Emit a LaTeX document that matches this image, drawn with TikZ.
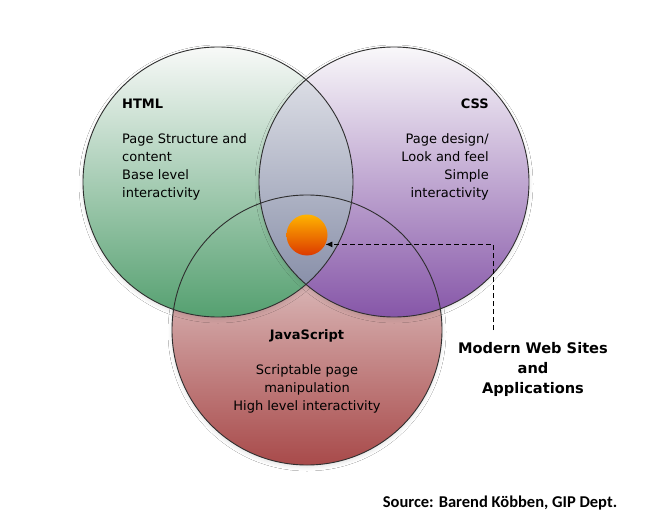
\documentclass[tikz,border=0pt]{standalone}
\usepackage{fontspec}
\setmainfont{DejaVu Sans}
\newfontfamily\srcfont{Carlito}
\usetikzlibrary{arrows.meta,shadows.blur}

\definecolor{ringline}{HTML}{2E2E2E}
\definecolor{htmltop}{HTML}{F8F9F8}
\definecolor{htmlmid}{HTML}{C2DDC8}
\definecolor{htmlbot}{HTML}{55A070}
\definecolor{csstop}{HTML}{F9F8FA}
\definecolor{cssmid}{HTML}{DACFE4}
\definecolor{cssbot}{HTML}{8656A8}
\definecolor{jstop}{HTML}{F0E8E8}
\definecolor{jsmid}{HTML}{D8B8B8}
\definecolor{jsbot}{HTML}{A84A4A}
\definecolor{lenstop}{HTML}{E8E9EE}
\definecolor{lensbot}{HTML}{7C84A0}
\definecolor{balltop}{HTML}{FFB300}
\definecolor{ballbot}{HTML}{DC3A00}

\tikzset{
  ring/.style={draw=ringline, line width=0.9pt},
  softshadow/.style={blur shadow={shadow xshift=0pt, shadow yshift=-2pt,
      shadow blur radius=4pt, shadow opacity=12}},
  title/.style={font=\bfseries\fontsize{13}{18}\selectfont, inner sep=0pt},
  body/.style={font=\fontsize{13}{18}\selectfont, inner sep=0pt},
  callout/.style={font=\bfseries\fontsize{14.6}{20}\selectfont, inner sep=0pt, align=center},
  credit/.style={font=\srcfont\bfseries\fontsize{16.5}{18}\selectfont, inner sep=0pt},
  pointer/.style={dashed, dash pattern=on 5pt off 3pt, line width=0.9pt,
      -{Latex[length=7pt,width=6pt]}},
}

\begin{document}
\begin{tikzpicture}[x=1pt, y=-1pt]
\useasboundingbox[fill=white] (0,0) rectangle (651,519);

% circle centres and radius
\coordinate (ch) at (218,182);
\coordinate (cc) at (394,182);
\coordinate (cj) at (307,330);
\def\R{135}

% shaded discs, JavaScript underneath
\path[softshadow, top color=jstop, middle color=jsmid, bottom color=jsbot] (cj) circle (\R);
\path[softshadow, top color=htmltop, middle color=htmlmid, bottom color=htmlbot] (ch) circle (\R);
\path[softshadow, top color=csstop, middle color=cssmid, bottom color=cssbot] (cc) circle (\R);

% HTML / CSS overlap
\begin{scope}
  \clip (ch) circle (\R);
  \shade[top color=lenstop, bottom color=lensbot] (cc) circle (\R);
\end{scope}

% outlines
\draw[ring] (cj) circle (\R);
\draw[ring] (ch) circle (\R);
\draw[ring] (cc) circle (\R);

% labels (multi-line nodes are placed by the baseline of their last line)
\node[title, anchor=base west] (htmlt) at (122,108) {HTML};
\node[body, anchor=base west, align=left] (htmlb) at (122,197.5)
  {Page Structure and\\content\\Base level\\interactivity};

\node[title, anchor=base east] (csst) at (489,108) {CSS};
\node[body, anchor=base east, align=right] (cssb) at (489,197.5)
  {Page design/\\Look and feel\\Simple\\interactivity};

\node[title, anchor=base] (jst) at (307,339.5) {JavaScript};
\node[body, anchor=base, align=center] (jsb) at (307,410.5)
  {Scriptable page\\manipulation\\High level interactivity};

% the common core
\node[circle, minimum size=41pt, inner sep=0pt,
      top color=balltop, bottom color=ballbot] (ball) at (307,235) {};

\node[callout, anchor=base] (mws) at (533,393)
  {Modern Web Sites\\and\\Applications};
\coordinate (tail) at (493,330);
\draw[pointer] (tail) |- (ball.-27);

\node[credit, anchor=base] (src) at (500,507) {Source: Barend Köbben, GIP Dept.};
\end{tikzpicture}
\end{document}
